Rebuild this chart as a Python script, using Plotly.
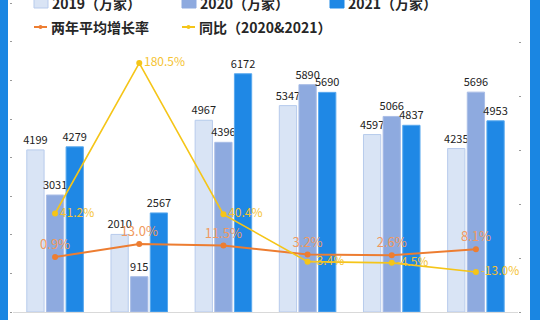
import plotly.graph_objects as go

categories = ["1", "2", "3", "4", "5", "6"]
v2019 = [4199, 2010, 4967, 5347, 4597, 4235]
v2020 = [3031, 915, 4396, 5890, 5066, 5696]
v2021 = [4279, 2567, 6172, 5690, 4837, 4953]
avg_growth = [0.9, 13.0, 11.5, 3.2, 2.6, 8.1]
yoy = [41.2, 180.5, 40.4, -3.4, -4.5, -13.0]

names = ["2019（万家）", "2020（万家）", "2021（万家）", "两年平均增长率", "同比（2020&2021）"]

W, H = 540, 320
L, R, T, B = 13, 22, 0, 8
PW, PH = W - L - R, H - T - B

def px(x):
    return (x - L) / PW

def py(y):
    return (T + PH - y) / PH

FONT = "Noto Sans CJK SC"
C19, C20, C21 = "#d9e4f5", "#8eaadf", "#1f88e5"
CORG, CYEL = "#ed7d31", "#f5c518"

fig = go.Figure()
for vals, col, edge, nm in [(v2019, C19, "#b7cbec", names[0]),
                            (v2020, C20, "#a9bde6", names[1]),
                            (v2021, C21, "#5aa9ee", names[2])]:
    fig.add_trace(go.Bar(x=categories, y=vals, name=nm, marker=dict(color=col, line=dict(color=edge, width=1)),
                         text=[str(v) for v in vals], textposition="outside", constraintext="none",
                         textfont=dict(family=FONT, size=11, color="#222222"), cliponaxis=False,
                         showlegend=False))

fig.add_trace(go.Scatter(x=categories, y=avg_growth, yaxis="y2", name=names[3], mode="lines+markers+text",
                         line=dict(color=CORG, width=2), marker=dict(size=6, color=CORG),
                         text=[f"{v:.1f}%" for v in avg_growth], textposition="top center",
                         textfont=dict(family=FONT, size=13, color="#f09a60"), cliponaxis=False, showlegend=False))
fig.add_trace(go.Scatter(x=categories, y=yoy, yaxis="y2", name=names[4], mode="lines+markers+text",
                         line=dict(color=CYEL, width=1.6), marker=dict(size=6, color=CYEL),
                         text=[f"{v:.1f}%" for v in yoy], textposition="middle right",
                         textfont=dict(family=FONT, size=12, color="#f5c332"), cliponaxis=False, showlegend=False))

shapes = [
    dict(type="rect", xref="paper", yref="paper", x0=px(0), x1=px(8), y0=py(H), y1=py(0),
         fillcolor="#1a86e2", line=dict(width=0), layer="above"),
    dict(type="rect", xref="paper", yref="paper", x0=px(530), x1=px(540), y0=py(H), y1=py(0),
         fillcolor="#1a86e2", line=dict(width=0), layer="above"),
]
annotations = []
# legend row 1: bar squares
for x0, col, edge, nm in [(34, C19, "#b7cbec", names[0]), (182, C20, C20, names[1]), (330, C21, C21, names[2])]:
    shapes.append(dict(type="rect", xref="paper", yref="paper", x0=px(x0), x1=px(x0 + 14), y0=py(8), y1=py(-6),
                       fillcolor=col, line=dict(color=edge, width=1)))
    annotations.append(dict(xref="paper", yref="paper", x=px(x0 + 16), y=py(3), xanchor="left", yanchor="middle",
                            text=nm, showarrow=False, font=dict(family=FONT, size=14, color="#262626", weight="bold")))
# legend row 2: lines
for x0, col, nm in [(34, CORG, names[3]), (182, CYEL, names[4])]:
    shapes.append(dict(type="line", xref="paper", yref="paper", x0=px(x0), x1=px(x0 + 13), y0=py(27), y1=py(27),
                       line=dict(color=col, width=2)))
    shapes.append(dict(type="circle", xref="paper", yref="paper", x0=px(x0 + 4.5), x1=px(x0 + 8.5),
                       y0=py(29), y1=py(25), fillcolor=col, line=dict(width=0)))
    annotations.append(dict(xref="paper", yref="paper", x=px(x0 + 15), y=py(27), xanchor="left", yanchor="middle",
                            text=nm, showarrow=False, font=dict(family=FONT, size=14, color="#262626", weight="bold")))

fig.update_layout(
    width=W, height=H, margin=dict(l=L, r=R, t=T, b=B),
    paper_bgcolor="white", plot_bgcolor="white",
    barmode="group", bargap=0.3, bargroupgap=0.12,
    xaxis=dict(showticklabels=False, showline=True, linecolor="#d9d9d9", linewidth=1, ticks="", showgrid=False),
    yaxis=dict(range=[0, 8083], dtick=1000, showticklabels=False, showgrid=False, zeroline=False,
               ticks="outside", ticklen=2, tickcolor="#9a9a9a", tickwidth=1),
    yaxis2=dict(range=[-50, 238.9], dtick=50, overlaying="y", side="right", showticklabels=False, showgrid=False,
                zeroline=False, ticks="outside", ticklen=2, tickcolor="#9a9a9a", tickwidth=1),
    shapes=shapes, annotations=annotations, showlegend=False,
)
fig.write_html("out.html")
